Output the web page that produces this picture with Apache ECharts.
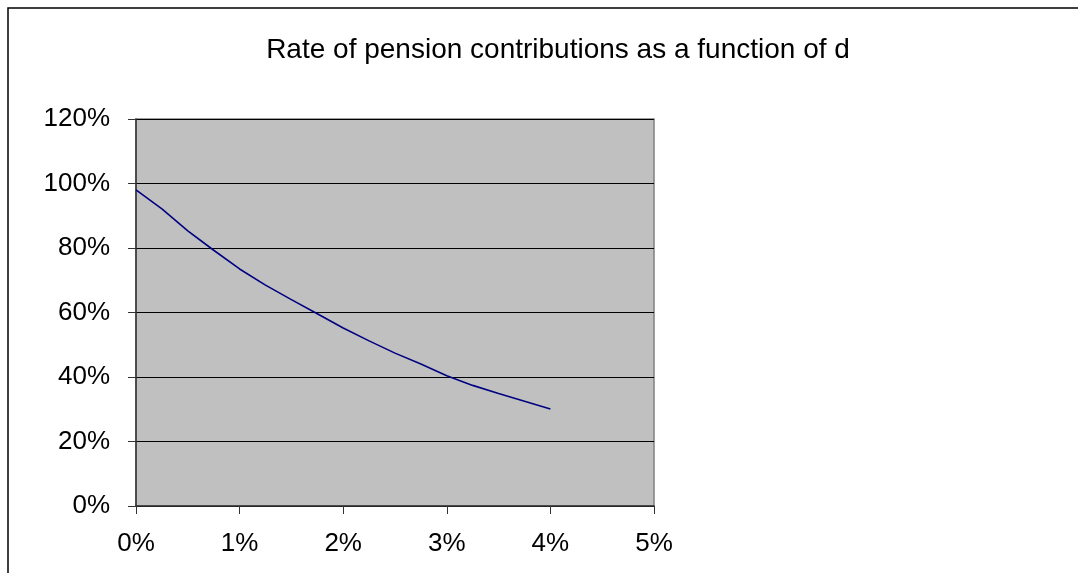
<!DOCTYPE html>
<html>
<head>
<meta charset="utf-8">
<script src="https://cdn.jsdelivr.net/npm/echarts@6/dist/echarts.min.js"></script>
<style>
html,body{margin:0;padding:0;background:#fff;}
#chart{width:1078px;height:573px;}
</style>
</head>
<body>
<div id="chart"></div>
<script>
const titleText = 'Rate of pension contributions as a function of d';
const dValues = [0, 0.0025, 0.005, 0.0075, 0.01, 0.0125, 0.015, 0.0175, 0.02, 0.0225, 0.025, 0.0275, 0.03, 0.0325, 0.035, 0.0375, 0.04];
const rateValues = [0.98, 0.921, 0.853, 0.793, 0.735, 0.685, 0.640, 0.596, 0.552, 0.512, 0.474, 0.440, 0.404, 0.374, 0.349, 0.325, 0.301];
const xTicks = [0, 0.01, 0.02, 0.03, 0.04, 0.05];
const yTicks = [0, 0.2, 0.4, 0.6, 0.8, 1.0, 1.2];

const chart = echarts.init(document.getElementById('chart'), null, {renderer: 'canvas'});
const pct = v => Math.round(v * 100) + '%';
const font = '"Liberation Sans", Arial, sans-serif';

chart.setOption({
  animation: false,
  backgroundColor: '#ffffff',
  graphic: [{
    type: 'rect',
    shape: {x: 8, y: 8, width: 1200, height: 700},
    style: {fill: 'none', stroke: '#000', lineWidth: 1.5},
    silent: true
  }],
  title: {
    text: titleText,
    left: 553, top: 31,
    textAlign: 'center',
    textStyle: {fontFamily: font, fontSize: 28, fontWeight: 'normal', color: '#000'}
  },
  grid: {
    left: 136, right: 424, top: 119, bottom: 67,
    show: true, backgroundColor: '#c0c0c0', borderColor: '#808080', borderWidth: 1.5
  },
  xAxis: {
    type: 'value',
    min: xTicks[0], max: xTicks[xTicks.length - 1], interval: 0.01,
    axisLine: {show: true, lineStyle: {color: '#333', width: 1.5}},
    axisTick: {show: true, inside: false, length: 8, lineStyle: {color: '#333'}},
    axisLabel: {margin: 25, formatter: pct, fontFamily: font, fontSize: 26, color: '#000'},
    splitLine: {show: false}
  },
  yAxis: {
    type: 'value',
    min: yTicks[0], max: yTicks[yTicks.length - 1], interval: 0.2,
    axisLine: {show: true, lineStyle: {color: '#333', width: 1.5}},
    axisTick: {show: true, inside: false, length: 8, lineStyle: {color: '#333'}},
    axisLabel: {margin: 26, formatter: pct, fontFamily: font, fontSize: 26, color: '#000'},
    splitLine: {show: true, lineStyle: {color: '#000', width: 1}}
  },
  series: [{
    type: 'line',
    data: dValues.map((d, i) => [d, rateValues[i]]),
    showSymbol: false,
    smooth: false,
    lineStyle: {color: '#000080', width: 1.6},
    itemStyle: {color: '#000080'}
  }]
});
</script>
</body>
</html>
